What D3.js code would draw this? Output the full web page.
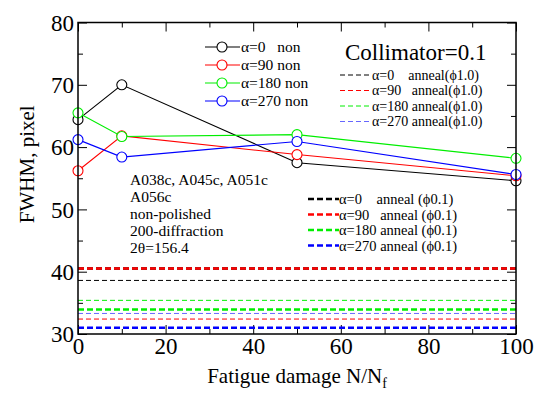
<!DOCTYPE html>
<html>
<head>
<meta charset="utf-8">
<script src="https://cdn.jsdelivr.net/npm/d3@7/dist/d3.min.js"></script>
<style>
  body { margin: 0; background: #fff; }
  svg, svg text { font-family: "Liberation Serif", "Times New Roman", serif; }
</style>
</head>
<body>
<div id="chart"></div>
<script>
// fatigue damage N/Nf (%)
const damage = [0, 10, 50, 100];

// FWHM of the non-annealed specimens, per alpha
const series = [
  { name: 'α=0   non',  color: '#000000', values: [64.4, 70.0, 57.5, 54.6] },
  { name: 'α=90 non',   color: '#ff0000', values: [56.2, 61.8, 58.8, 55.4] },
  { name: 'α=180 non',  color: '#00ee00', values: [65.5, 61.7, 62.0, 58.2] },
  { name: 'α=270 non',  color: '#0000ff', values: [61.2, 58.4, 60.9, 55.6] }
];

// annealed reference levels
const anneal10 = [
  { name: 'α=0    anneal(ϕ1.0)',  color: '#000000', value: 38.6 },
  { name: 'α=90   anneal(ϕ1.0)',  color: '#ff0000', value: 32.4 },
  { name: 'α=180 anneal(ϕ1.0)',   color: '#00ee00', value: 35.4 },
  { name: 'α=270 anneal(ϕ1.0)',   color: '#6666ff', value: 33.3 }
];
const anneal01 = [
  { name: 'α=0    anneal (ϕ0.1)', color: '#000000', value: 40.5 },
  { name: 'α=90   anneal (ϕ0.1)', color: '#ff0000', value: 40.5 },
  { name: 'α=180 anneal (ϕ0.1)',  color: '#00ee00', value: 33.95 },
  { name: 'α=270 anneal (ϕ0.1)',  color: '#0000ff', value: 31.0 }
];

const xTicks = [0, 20, 40, 60, 80, 100];
const yTicks = [30, 40, 50, 60, 70, 80];

const notes = ['A038c, A045c, A051c', 'A056c', 'non-polished', '200-diffraction', '2θ=156.4'];

const W = 542, H = 397;
const margin = { top: 22.5, right: 26, bottom: 63, left: 78 };
const width = W - margin.left - margin.right;
const height = H - margin.top - margin.bottom;

const svg = d3.select('#chart').append('svg')
  .attr('width', W).attr('height', H);
const g = svg.append('g').attr('transform', `translate(${margin.left},${margin.top})`);

const x = d3.scaleLinear().domain([0, 100]).range([0, width]);
const y = d3.scaleLinear().domain([30, 80]).range([height, 0]);

// minor ticks
const xMinor = d3.range(10, 100, 20);
const yMinor = d3.range(35, 80, 10);

function styleAxis(sel) {
  sel.attr('font-family', null).attr('font-size', null);
  sel.select('.domain').remove();
  sel.selectAll('line').attr('stroke', '#000').attr('stroke-width', 1);
  sel.selectAll('text').attr('fill', '#000').attr('font-size', '23px');
}

g.append('g').attr('transform', `translate(0,${height})`)
  .call(d3.axisBottom(x).tickValues(xTicks).tickSize(-9).tickPadding(3))
  .call(styleAxis)
  .selectAll('text').attr('dy', '0.74em');
g.append('g').attr('transform', `translate(0,${height})`)
  .call(d3.axisBottom(x).tickValues(xMinor).tickSize(-5).tickFormat(() => ''))
  .call(styleAxis);
g.append('g')
  .call(d3.axisTop(x).tickValues(xTicks).tickSize(-9).tickFormat(() => ''))
  .call(styleAxis);
g.append('g')
  .call(d3.axisTop(x).tickValues(xMinor).tickSize(-5).tickFormat(() => ''))
  .call(styleAxis);

g.append('g')
  .call(d3.axisLeft(y).tickValues(yTicks).tickSize(-9).tickPadding(4))
  .call(styleAxis)
  .selectAll('text').attr('dy', '0.34em');
g.append('g')
  .call(d3.axisLeft(y).tickValues(yMinor).tickSize(-5).tickFormat(() => ''))
  .call(styleAxis);
g.append('g').attr('transform', `translate(${width},0)`)
  .call(d3.axisRight(y).tickValues(yTicks).tickSize(-9).tickFormat(() => ''))
  .call(styleAxis);
g.append('g').attr('transform', `translate(${width},0)`)
  .call(d3.axisRight(y).tickValues(yMinor).tickSize(-5).tickFormat(() => ''))
  .call(styleAxis);

// annealed levels
anneal10.forEach(d => {
  g.append('line')
    .attr('x1', 0).attr('x2', width)
    .attr('y1', y(d.value)).attr('y2', y(d.value))
    .attr('stroke', d.color).attr('stroke-width', 1)
    .attr('stroke-dasharray', '5,3');
});
anneal01.forEach(d => {
  g.append('line')
    .attr('x1', 0).attr('x2', width)
    .attr('y1', y(d.value)).attr('y2', y(d.value))
    .attr('stroke', d.color).attr('stroke-width', 2.5)
    .attr('stroke-dasharray', '6,3');
});

// non-annealed series
const line = d3.line().x((d, i) => x(damage[i])).y(d => y(d));
series.forEach(s => {
  g.append('path')
    .attr('d', line(s.values))
    .attr('fill', 'none')
    .attr('stroke', s.color)
    .attr('stroke-width', 1.1);
  g.selectAll(null)
    .data(s.values)
    .enter()
    .append('circle')
    .attr('cx', (d, i) => x(damage[i]))
    .attr('cy', d => y(d))
    .attr('r', 5)
    .attr('fill', '#fff')
    .attr('stroke', s.color)
    .attr('stroke-width', 1.1);
});

// frame
g.append('rect')
  .attr('width', width).attr('height', height)
  .attr('fill', 'none').attr('stroke', '#000').attr('stroke-width', 1.5);

// legend: non
series.forEach((s, i) => {
  const ly = 47 + i * 18;
  svg.append('line').attr('x1', 205).attr('x2', 240).attr('y1', ly).attr('y2', ly)
    .attr('stroke', s.color).attr('stroke-width', 1.1);
  svg.append('circle').attr('cx', 222).attr('cy', ly).attr('r', 5)
    .attr('fill', '#fff').attr('stroke', s.color).attr('stroke-width', 1.1);
  svg.append('text').attr('x', 241).attr('y', ly + 5)
    .attr('font-size', '15.5px').style('white-space', 'pre').text(s.name);
});

svg.append('text').attr('x', 345).attr('y', 60)
  .attr('font-size', '23px').text('Collimator=0.1');

// legend: anneal phi 1.0
anneal10.forEach((d, i) => {
  const ly = 75 + i * 15.5;
  svg.append('line').attr('x1', 340).attr('x2', 372).attr('y1', ly).attr('y2', ly)
    .attr('stroke', d.color).attr('stroke-width', 1).attr('stroke-dasharray', '5,3');
  svg.append('text').attr('x', 372).attr('y', ly + 4.5)
    .attr('font-size', '14px').style('white-space', 'pre').text(d.name);
});

// legend: anneal phi 0.1
anneal01.forEach((d, i) => {
  const ly = 199 + i * 15.5;
  svg.append('line').attr('x1', 308).attr('x2', 339).attr('y1', ly).attr('y2', ly)
    .attr('stroke', d.color).attr('stroke-width', 2.5).attr('stroke-dasharray', '6,3');
  svg.append('text').attr('x', 339).attr('y', ly + 5)
    .attr('font-size', '14.5px').style('white-space', 'pre').text(d.name);
});

// specimen notes
notes.forEach((t, i) => {
  svg.append('text').attr('x', 130).attr('y', 185 + i * 17)
    .attr('font-size', '15.5px').text(t);
});

// axis titles
const xt = svg.append('text').attr('x', margin.left + width / 2).attr('y', 383)
  .attr('text-anchor', 'middle').attr('font-size', '21px');
xt.append('tspan').text('Fatigue damage N/N');
xt.append('tspan').attr('font-size', '14px').attr('dy', 5).text('f');

svg.append('text')
  .attr('transform', `translate(34,${margin.top + height / 2 - 14}) rotate(-90)`)
  .attr('text-anchor', 'middle').attr('font-size', '21px')
  .text('FWHM, pixel');
</script>
</body>
</html>
